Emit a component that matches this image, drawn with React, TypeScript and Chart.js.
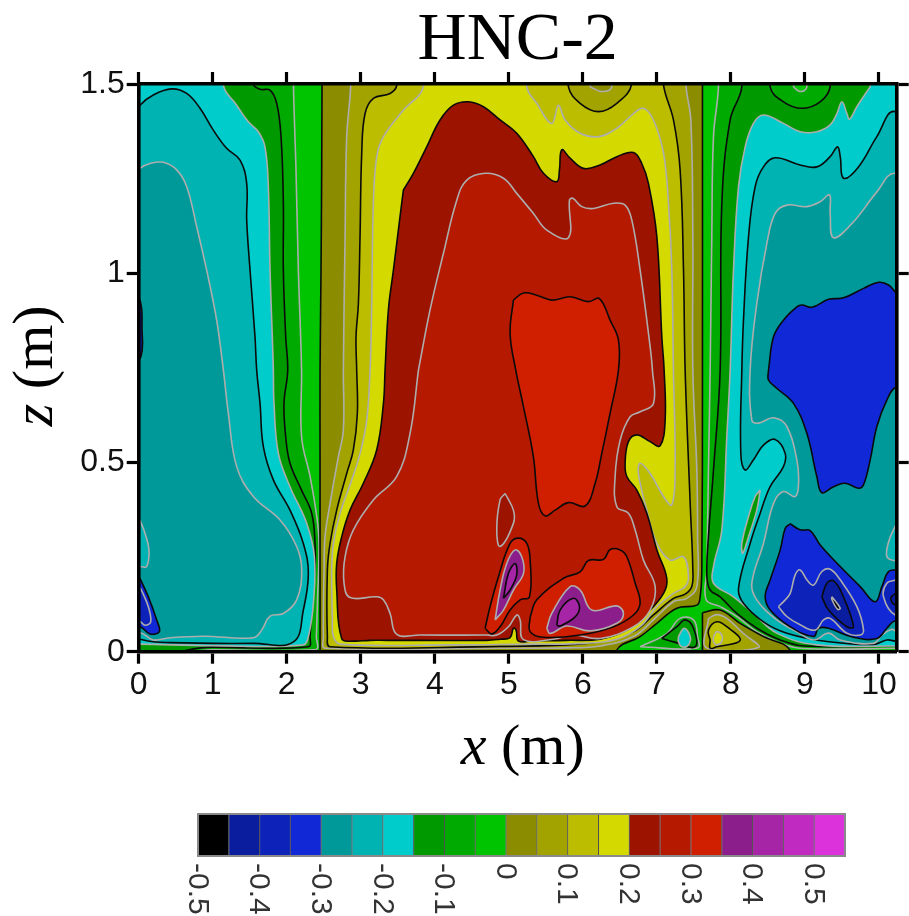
import React, { useEffect, useRef } from "react";
import { Chart, registerables } from "chart.js";

Chart.register(...registerables);

type P = number[][];

// colour of every 0.05 wide level, from -0.5 up to 0.55
const levelColors = ["#000000", "#0a1d9e", "#0d22b8", "#1128d6", "#009999", "#00b3b3", "#00cccc", "#009900", "#00aa00", "#00c400", "#8c8c00", "#a3a300", "#bdbd00", "#d4d900", "#9c1300", "#b51900", "#cf1f00", "#8c1e8c", "#a624a6", "#c02ac0", "#dc32dc"];
const levelStarts = [-0.475, -0.425, -0.375, -0.325, -0.275, -0.225, -0.175, -0.125, -0.075, -0.025, 0.025, 0.075, 0.125, 0.175, 0.225, 0.275, 0.325, 0.375, 0.425, 0.475, 0.525];
const barHeights = levelStarts.map(() => 1);

const whole: P = [[-1, -1], [12, -1], [12, 2.5], [-1, 2.5]];

// left side, sub-level sets
const leftM005: P = [[-0.6, 1.7], [2.08, 1.7], [2.09, 1.5], [2.125, 1.273], [2.157, 1.008], [2.2, 0.744], [2.2, 0.568], [2.315, 0.463], [2.405, 0.357], [2.436, 0.286], [2.414, 0.128], [2.4, 0.04], [2.39, 0.006], [1, 0.005], [-0.6, 0.005]];
const leftM010: P = [[-0.6, 1.7], [1.5, 1.7], [1.549, 1.5], [1.639, 1.486], [1.774, 1.484], [1.864, 1.449], [1.923, 1.361], [1.954, 1.185], [1.954, 1.008], [1.986, 0.832], [2.013, 0.744], [1.963, 0.656], [1.986, 0.568], [2.044, 0.498], [2.2, 0.427], [2.337, 0.366], [2.382, 0.286], [2.382, 0.216], [2.337, 0.128], [2.315, 0.04], [2.292, 0.013], [1, 0.012], [-0.6, 0.012]];
const leftM015: P = [[-0.6, 1.7], [1.1, 1.7], [1.144, 1.497], [1.324, 1.444], [1.481, 1.4], [1.616, 1.374], [1.706, 1.334], [1.751, 1.229], [1.774, 1.008], [1.805, 0.832], [1.819, 0.744], [1.828, 0.656], [1.887, 0.524], [2.044, 0.436], [2.27, 0.339], [2.373, 0.251], [2.36, 0.128], [2.292, 0.04], [2.224, 0.018], [1, 0.016], [0, 0.02], [-0.6, 0.02]];
const leftM020: P = [[-0.6, 1.3], [0.017, 1.444], [0.197, 1.471], [0.445, 1.487], [0.648, 1.475], [0.828, 1.436], [1.008, 1.378], [1.188, 1.33], [1.369, 1.299], [1.459, 1.237], [1.459, 1.141], [1.504, 1.008], [1.571, 0.832], [1.594, 0.744], [1.639, 0.656], [1.684, 0.542], [1.819, 0.454], [2.044, 0.374], [2.224, 0.286], [2.292, 0.207], [2.224, 0.11], [2.09, 0.026], [1.549, 0.022], [0.423, 0.024], [0.062, 0.031], [-0.3, 0.06]];
const leftM025: P = [[-0.4, 1.2], [0.017, 1.277], [0.152, 1.29], [0.333, 1.293], [0.513, 1.273], [0.648, 1.229], [0.783, 1.123], [0.918, 1.008], [1.053, 0.876], [1.144, 0.744], [1.211, 0.63], [1.324, 0.489], [1.549, 0.41], [1.909, 0.348], [2.134, 0.278], [2.202, 0.216], [2.134, 0.137], [1.954, 0.101], [1.774, 0.094], [1.661, 0.057], [1.549, 0.037], [0.873, 0.041], [0.423, 0.037], [0.197, 0.031], [0.04, 0.049], [-0.3, 0.06]];
const leftIsle: P = [[0.017, 0.348], [0.085, 0.313], [0.139, 0.269], [0.107, 0.225], [0.017, 0.225], [-0.1, 0.22], [-0.1, 0.35]];
const leftBlue: P = [[0.017, 0.194], [0.13, 0.145], [0.243, 0.084], [0.279, 0.053], [0.152, 0.047], [0.017, 0.066], [-0.1, 0.06], [-0.1, 0.2]];
const leftBlueIn: P = [[0.027, 0.167], [0.13, 0.119], [0.162, 0.079], [0.085, 0.07], [0.017, 0.08], [-0.1, 0.08], [-0.1, 0.17]];
const leftNavy: P = [[-0.1, 0.93], [0.015, 0.93], [0.045, 0.85], [0.03, 0.78], [-0.1, 0.76]];

// central part, super-level sets
const mid000: P = [[2.48, 1.7], [7.62, 1.7], [7.616, 1.497], [7.616, 0.744], [7.607, 0.216], [7.585, 0.145], [7.54, 0.123], [7.27, 0.115], [7.0, 0.075], [6.774, 0.04], [6.459, 0.004], [6.4, -0.1], [2.52, -0.1], [2.45, -0.08], [2.45, 0], [2.45, 0.2], [2.45, 0.5], [2.45, 0.744], [2.463, 1.008], [2.472, 1.273]];
const mid005: P = [[2.87, 1.7], [2.864, 1.497], [2.81, 1.361], [2.788, 1.096], [2.765, 0.744], [2.765, 0.586], [2.697, 0.515], [2.585, 0.392], [2.517, 0.304], [2.504, 0.216], [2.495, 0.04], [2.52, 0.009], [4.882, 0.009], [5.78, 0.01], [6.233, 0.015], [6.684, 0.04], [6.954, 0.084], [7.224, 0.132], [7.405, 0.141], [7.54, 0.172], [7.55, 0.304], [7.54, 0.48], [7.486, 0.744], [7.486, 1.096], [7.459, 1.405], [7.395, 1.493], [7.35, 1.7]];
const mid010: P = [[3.5, 1.7], [3.486, 1.497], [3.396, 1.475], [3.171, 1.462], [3.058, 1.422], [3.013, 1.317], [2.99, 1.096], [2.968, 0.92], [2.936, 0.832], [2.945, 0.744], [2.954, 0.63], [2.9, 0.533], [2.81, 0.471], [2.675, 0.374], [2.585, 0.286], [2.549, 0.216], [2.549, 0.04], [2.585, 0.013], [4.882, 0.014], [5.78, 0.018], [6.233, 0.027], [6.684, 0.053], [6.954, 0.097], [7.224, 0.141], [7.382, 0.152], [7.472, 0.172], [7.486, 0.216], [7.45, 0.392], [7.382, 0.744], [7.36, 1.008], [7.314, 1.273], [7.224, 1.405], [7.09, 1.497], [7.0, 1.7], [6.7, 1.7], [6.66, 1.5], [6.459, 1.449], [6.211, 1.427], [5.963, 1.449], [5.805, 1.493], [5.7, 1.7]];
const mid015: P = [[3.9, 1.7], [3.846, 1.493], [3.576, 1.431], [3.306, 1.361], [3.215, 1.308], [3.17, 1.185], [3.148, 0.92], [3.125, 0.744], [3.08, 0.612], [2.99, 0.524], [2.878, 0.454], [2.72, 0.366], [2.63, 0.286], [2.607, 0.216], [2.616, 0.084], [2.63, 0.04], [2.72, 0.02], [4.25, 0.018], [4.882, 0.019], [5.332, 0.02], [6.008, 0.022], [6.459, 0.033], [6.774, 0.066], [7.0, 0.119], [7.224, 0.154], [7.382, 0.172], [7.427, 0.198], [7.36, 0.251], [7.179, 0.242], [7.0, 0.286], [6.864, 0.374], [6.751, 0.471], [6.774, 0.498], [6.909, 0.471], [7.09, 0.41], [7.202, 0.388], [7.247, 0.48], [7.224, 0.744], [7.202, 1.008], [7.157, 1.185], [7.09, 1.317], [6.954, 1.405], [6.819, 1.436], [6.684, 1.422], [6.459, 1.383], [6.211, 1.361], [5.963, 1.37], [5.76, 1.405], [5.67, 1.444], [5.58, 1.396], [5.377, 1.449], [5.242, 1.493], [5.2, 1.7]];
const mid020: P = [[3.576, 1.22], [3.711, 1.264], [3.891, 1.334], [4.071, 1.405], [4.252, 1.444], [4.454, 1.453], [4.657, 1.44], [4.882, 1.405], [5.107, 1.37], [5.332, 1.308], [5.468, 1.264], [5.648, 1.242], [5.684, 1.273], [5.715, 1.326], [5.828, 1.304], [6.008, 1.277], [6.233, 1.286], [6.459, 1.308], [6.684, 1.319], [6.796, 1.29], [6.887, 1.237], [7.0, 1.096], [7.067, 0.832], [7.098, 0.744], [7.112, 0.612], [7.044, 0.544], [6.909, 0.555], [6.729, 0.573], [6.616, 0.555], [6.571, 0.498], [6.594, 0.463], [6.729, 0.427], [6.864, 0.366], [7.0, 0.269], [7.134, 0.194], [7.09, 0.154], [6.864, 0.101], [6.594, 0.057], [6.233, 0.033], [5.783, 0.03], [5.332, 0.029], [5.13, 0.028], [5.098, 0.057], [5.062, 0.062], [5.017, 0.037], [4.882, 0.033], [4.702, 0.03], [3.8, 0.03], [3.35, 0.03], [3.125, 0.03], [2.9, 0.028], [2.743, 0.034], [2.675, 0.163], [2.675, 0.234], [2.743, 0.304], [2.855, 0.374], [3.035, 0.445], [3.215, 0.533], [3.306, 0.656], [3.328, 0.744], [3.373, 0.903], [3.441, 1.008], [3.553, 1.185]];
const mid025: P = [[3.779, 0.744], [3.936, 0.903], [4.116, 1.052], [4.297, 1.193], [4.432, 1.246], [4.68, 1.264], [4.928, 1.251], [5.107, 1.211], [5.332, 1.158], [5.513, 1.114], [5.805, 1.094], [5.819, 1.193], [5.864, 1.198], [5.986, 1.176], [6.143, 1.171], [6.414, 1.185], [6.571, 1.18], [6.661, 1.141], [6.774, 1.008], [6.909, 0.806], [6.94, 0.744], [6.954, 0.656], [6.774, 0.634], [6.639, 0.621], [6.504, 0.559], [6.436, 0.463], [6.459, 0.383], [6.616, 0.366], [6.706, 0.322], [6.819, 0.242], [6.977, 0.172], [6.909, 0.11], [6.684, 0.066], [6.233, 0.035], [5.873, 0.044], [5.603, 0.033], [5.198, 0.032], [5.153, 0.084], [5.108, 0.097], [4.995, 0.066], [4.837, 0.044], [4.702, 0.044], [3.8, 0.044], [3.486, 0.046], [3.396, 0.101], [3.306, 0.137], [3.215, 0.145], [2.855, 0.143], [2.774, 0.181], [2.788, 0.251], [2.9, 0.322], [3.17, 0.401], [3.486, 0.463], [3.666, 0.577]];
const midIsle: P = [[4.95, 0.418], [5.062, 0.374], [5.062, 0.339], [4.882, 0.278], [4.837, 0.322], [4.882, 0.401]];
const mid030Top: P = [[5.062, 0.929], [5.197, 0.948], [5.377, 0.942], [5.58, 0.929], [5.828, 0.938], [6.076, 0.925], [6.224, 0.933], [6.368, 0.876], [6.481, 0.823], [6.481, 0.744], [6.368, 0.63], [6.256, 0.524], [6.166, 0.445], [6.031, 0.385], [5.805, 0.394], [5.625, 0.374], [5.49, 0.359], [5.4, 0.392], [5.332, 0.515], [5.197, 0.648], [5.094, 0.744], [5.017, 0.841]];
const mid030LobeA: P = [[4.68, 0.062], [4.747, 0.119], [4.86, 0.198], [5.017, 0.286], [5.13, 0.3], [5.243, 0.286], [5.288, 0.242], [5.279, 0.145], [5.153, 0.137], [5.017, 0.11], [4.882, 0.066], [4.77, 0.047]];
const mid030LobeB: P = [[5.288, 0.092], [5.288, 0.053], [5.468, 0.038], [5.963, 0.044], [6.414, 0.066], [6.684, 0.097], [6.774, 0.128], [6.707, 0.181], [6.594, 0.251], [6.504, 0.269], [6.369, 0.27], [6.279, 0.244], [6.076, 0.241], [5.963, 0.211], [5.738, 0.194], [5.378, 0.137]];
const mid035LobeA: P = [[4.815, 0.084], [4.882, 0.163], [4.972, 0.233], [5.085, 0.269], [5.175, 0.251], [5.198, 0.207], [5.062, 0.163], [4.927, 0.11]];
const mid035LobeB: P = [[5.513, 0.062], [5.58, 0.101], [5.828, 0.172], [5.963, 0.163], [6.121, 0.11], [6.459, 0.121], [6.549, 0.101], [6.459, 0.075], [6.099, 0.055], [5.783, 0.068], [5.558, 0.048]];
const mid040LobeA: P = [[4.927, 0.141], [4.995, 0.207], [5.085, 0.233], [5.107, 0.203], [5.017, 0.163]];
const mid040LobeB: P = [[5.648, 0.07], [5.693, 0.11], [5.873, 0.141], [5.955, 0.119], [5.896, 0.092], [5.693, 0.068]];
const topDent: P = [[6.098, 1.493], [6.256, 1.48], [6.391, 1.493], [6.4, 1.7], [6.09, 1.7]];

// bottom pockets next to x = 7.6
const pocketM005: P = [[6.774, 0.013], [7.134, 0.048], [7.314, 0.088], [7.495, 0.084], [7.55, 0.04], [7.55, 0.01]];
const pocketM010: P = [[7.067, 0.035], [7.27, 0.066], [7.382, 0.084], [7.495, 0.062], [7.517, 0.013], [7.225, 0.026]];
const pocketM015: P = [[7.292, 0.04], [7.369, 0.062], [7.45, 0.04], [7.427, 0.018], [7.337, 0.013], [7.292, 0.026]];
const pocket000: P = [[7.616, 0.103], [7.855, 0.11], [8.125, 0.075], [8.44, 0.04], [8.8, 0.004], [8.9, -0.1], [7.7, -0.1], [7.616, -0.08], [7.616, -0.02], [7.616, 0.05]];
const pocket005: P = [[7.697, 0.088], [7.81, 0.098], [7.945, 0.088], [8.17, 0.048], [8.373, 0.011], [7.675, 0.009]];
const pocket010: P = [[7.72, 0.03], [7.697, 0.057], [7.81, 0.079], [7.945, 0.066], [8.125, 0.03], [7.81, 0.013], [7.72, 0.009]];
const pocket015: P = [[7.765, 0.04], [7.81, 0.053], [7.878, 0.044], [7.878, 0.027], [7.81, 0.018], [7.765, 0.027]];

// right side, sub-level sets
const rightM005: P = [[7.84, 1.7], [7.832, 1.493], [7.765, 1.361], [7.742, 1.096], [7.72, 0.744], [7.697, 0.48], [7.675, 0.216], [7.666, 0.137], [7.855, 0.119], [8.08, 0.093], [8.351, 0.053], [8.621, 0.027], [8.936, 0.009], [10.3, 0.009], [11, 0.009], [11, 1.7]];
const rightM010: P = [[8.16, 1.7], [8.148, 1.493], [7.99, 1.405], [7.878, 1.185], [7.855, 0.744], [7.765, 0.48], [7.697, 0.304], [7.675, 0.2], [7.72, 0.163], [7.855, 0.145], [8.08, 0.101], [8.351, 0.062], [8.666, 0.031], [8.981, 0.015], [10.3, 0.015], [11, 0.015], [11, 1.7], [9.36, 1.7], [9.341, 1.493], [9.206, 1.453], [8.959, 1.436], [8.71, 1.453], [8.53, 1.493], [8.5, 1.7]];
const rightTopDent: P = [[8.846, 1.492], [8.936, 1.48], [9.026, 1.492], [9.03, 1.7], [8.84, 1.7]];
const rightM015: P = [[9.882, 1.493], [9.702, 1.44], [9.603, 1.407], [9.567, 1.422], [9.5, 1.453], [9.432, 1.422], [9.341, 1.392], [9.161, 1.374], [8.936, 1.374], [8.71, 1.396], [8.44, 1.418], [8.305, 1.396], [8.193, 1.334], [8.103, 1.229], [8.035, 1.008], [7.99, 0.744], [7.945, 0.568], [7.878, 0.322], [7.765, 0.225], [7.765, 0.181], [8.035, 0.145], [8.305, 0.101], [8.62, 0.049], [9.161, 0.018], [10.2, 0.015], [11, 0.015], [11, 1.7], [9.95, 1.7]];
const rightStreak: P = [[8.396, 0.427], [8.35, 0.374], [8.238, 0.304], [8.161, 0.26], [8.148, 0.286], [8.238, 0.357], [8.328, 0.41]];
const rightM020: P = [[11, 1.3], [10.22, 1.427], [9.972, 1.361], [9.724, 1.281], [9.522, 1.251], [9.477, 1.308], [9.441, 1.334], [9.341, 1.308], [9.161, 1.281], [8.936, 1.286], [8.598, 1.305], [8.44, 1.281], [8.328, 1.229], [8.238, 1.096], [8.17, 0.876], [8.148, 0.744], [8.134, 0.524], [8.193, 0.48], [8.305, 0.507], [8.44, 0.546], [8.598, 0.561], [8.733, 0.524], [8.71, 0.489], [8.53, 0.436], [8.396, 0.366], [8.26, 0.286], [8.103, 0.167], [8.17, 0.128], [8.44, 0.079], [8.756, 0.049], [9.297, 0.027], [9.927, 0.019], [10.107, 0.031], [10.24, 0.027], [11, 0.02]];
const rightM025: P = [[11, 1.2], [10.22, 1.264], [9.972, 1.215], [9.657, 1.136], [9.387, 1.094], [9.341, 1.158], [9.332, 1.207], [9.206, 1.189], [9.026, 1.176], [8.756, 1.18], [8.598, 1.158], [8.486, 1.079], [8.35, 0.92], [8.26, 0.744], [8.283, 0.612], [8.373, 0.604], [8.576, 0.618], [8.756, 0.595], [8.891, 0.507], [8.914, 0.445], [8.869, 0.41], [8.71, 0.423], [8.576, 0.392], [8.44, 0.286], [8.283, 0.181], [8.35, 0.137], [8.62, 0.084], [8.891, 0.053], [9.117, 0.031], [9.319, 0.049], [9.477, 0.031], [9.927, 0.022], [10.04, 0.044], [10.175, 0.059], [10.24, 0.053], [11, 0.04]];
const rightIsle: P = [[10.24, 0.34], [10.13, 0.29], [10.11, 0.25], [10.23, 0.24], [10.5, 0.24], [10.5, 0.34]];
const rightM030Top: P = [[8.508, 0.744], [8.576, 0.832], [8.71, 0.876], [8.891, 0.911], [8.959, 0.916], [9.094, 0.91], [9.319, 0.931], [9.522, 0.935], [9.792, 0.96], [9.995, 0.976], [10.13, 0.969], [10.24, 0.947], [10.6, 0.9], [10.6, 0.7], [10.24, 0.7], [10.107, 0.665], [9.972, 0.595], [9.882, 0.507], [9.792, 0.441], [9.724, 0.432], [9.544, 0.445], [9.387, 0.436], [9.229, 0.42], [9.161, 0.463], [9.026, 0.577], [8.846, 0.656], [8.62, 0.696], [8.508, 0.718]];
const rightM030Low: P = [[8.801, 0.338], [8.936, 0.322], [9.071, 0.32], [9.207, 0.282], [9.477, 0.225], [9.747, 0.172], [9.95, 0.132], [10.04, 0.172], [10.13, 0.212], [10.24, 0.216], [10.6, 0.216], [10.6, 0.08], [10.22, 0.082], [10.107, 0.062], [9.972, 0.035], [9.657, 0.038], [9.319, 0.062], [9.184, 0.062], [9.117, 0.04], [8.801, 0.066], [8.531, 0.11], [8.463, 0.146], [8.531, 0.19], [8.666, 0.269], [8.734, 0.326]];
const rightM035: P = [[8.643, 0.119], [8.734, 0.137], [8.801, 0.154], [8.869, 0.203], [8.936, 0.216], [9.026, 0.19], [9.117, 0.176], [9.229, 0.212], [9.342, 0.218], [9.477, 0.19], [9.702, 0.119], [9.792, 0.057], [9.747, 0.044], [9.567, 0.049], [9.342, 0.088], [9.252, 0.084], [9.139, 0.057], [8.936, 0.071], [8.756, 0.093]];
const rightM035Edge: P = [[10.24, 0.19], [10.107, 0.181], [10.062, 0.145], [10.22, 0.097], [10.6, 0.09], [10.6, 0.19]];
const rightM040: P = [[9.229, 0.145], [9.297, 0.181], [9.387, 0.187], [9.5, 0.154], [9.657, 0.066], [9.567, 0.066], [9.319, 0.11]];
const rightM040Edge: P = [[10.22, 0.154], [10.16, 0.141], [10.22, 0.124], [10.6, 0.12], [10.6, 0.154]];
const rightM045: P = [[9.364, 0.145], [9.477, 0.115], [9.441, 0.112], [9.364, 0.138]];

const K = "#0a0a0a";
const G = "#adadad";

// painted from first to last: contour, level index, line colour
const regions: [P, number, string][] = [
  [whole, 9, K],
  [leftM005, 8, G], [leftM010, 7, K], [leftM015, 6, G], [leftM020, 5, K], [leftM025, 4, G],
  [leftIsle, 5, G], [leftNavy, 1, K], [leftBlue, 3, K], [leftBlueIn, 2, G],
  [mid000, 10, K], [mid005, 11, G], [mid010, 12, K], [mid015, 13, G], [mid020, 14, K], [mid025, 15, G],
  [midIsle, 14, G], [mid030Top, 16, K], [mid030LobeA, 16, K], [mid030LobeB, 16, K],
  [mid035LobeA, 17, G], [mid035LobeB, 17, G], [mid040LobeA, 18, K], [mid040LobeB, 18, K], [topDent, 10, G],
  [rightM005, 8, G], [rightM010, 7, K], [rightTopDent, 9, G], [rightM015, 6, G], [rightStreak, 7, G],
  [rightM020, 5, K], [rightM025, 4, G], [rightIsle, 5, G], [rightM030Top, 3, K], [rightM030Low, 3, K],
  [rightM035, 2, G], [rightM035Edge, 2, G], [rightM040, 1, K], [rightM040Edge, 1, K], [rightM045, 0, G],
  [pocketM005, 8, G], [pocketM010, 7, K], [pocketM015, 6, G],
  [pocket000, 10, K], [pocket005, 11, G], [pocket010, 12, K], [pocket015, 13, G],
];

const xTickStep = 1;
const zTickStep = 0.5;

const axisTitles = {
  x: [["x", "italic"], [" (m)", "normal"]],
  z: [["z", "italic"], [" (m)", "normal"]],
};

function drawMixed(ctx: CanvasRenderingContext2D, parts: string[][], size: number) {
  let w = 0;
  for (const [t, st] of parts) {
    ctx.font = `${st} ${size}px "Liberation Serif"`;
    w += ctx.measureText(t).width;
  }
  let at = -w / 2;
  for (const [t, st] of parts) {
    ctx.font = `${st} ${size}px "Liberation Serif"`;
    ctx.textAlign = "left";
    ctx.textBaseline = "alphabetic";
    ctx.fillStyle = "#000";
    ctx.fillText(t, at, 0);
    at += ctx.measureText(t).width;
  }
}

const axisTitlePlugin = {
  id: "axisTitlePlugin",
  afterDraw(chart: any) {
    const { ctx, chartArea } = chart;
    ctx.save();
    ctx.translate((chartArea.left + chartArea.right) / 2 + 5, 764);
    drawMixed(ctx, axisTitles.x, 58);
    ctx.restore();
    ctx.save();
    ctx.translate(52, (chartArea.top + chartArea.bottom) / 2 - 2);
    ctx.rotate(-Math.PI / 2);
    drawMixed(ctx, axisTitles.z, 58);
    ctx.restore();
  },
};

const barFramePlugin = {
  id: "barFramePlugin",
  afterDatasetsDraw(chart: any) {
    const { ctx, chartArea: a, scales } = chart;
    ctx.save();
    ctx.strokeStyle = "#8a8a8a";
    ctx.lineWidth = 2;
    ctx.strokeRect(a.left, a.top, a.right - a.left, a.bottom - a.top);
    ctx.fillStyle = "#333";
    ctx.font = '30px "Liberation Sans"';
    ctx.textAlign = "left";
    ctx.textBaseline = "middle";
    for (const tick of scales.x.ticks) {
      const label = String(Math.round(tick.value * 10) / 10);
      ctx.save();
      ctx.translate(scales.x.getPixelForValue(tick.value) - 1, a.bottom + 7);
      ctx.rotate(Math.PI / 2);
      ctx.fillText(label, 0, 0);
      ctx.restore();
    }
    ctx.restore();
  },
};

const fixedW = (w: number) => (s: any) => { s.width = w; };
const fixedH = (h: number) => (s: any) => { s.height = h; };

const MAIN_H = 790;

export default function App() {
  const mainRef = useRef<HTMLCanvasElement>(null);
  const barRef = useRef<HTMLCanvasElement>(null);

  useEffect(() => {
    const tickFont = { family: '"Liberation Sans"', size: 32 };
    const hiddenTicks = { display: false };
    const grid = { drawOnChartArea: false, drawTicks: true, tickLength: 12, tickWidth: 3.2, color: "#000" };
    const border = { display: true, color: "#000", width: 3.6, z: 1 };
    const main = new Chart(mainRef.current!, {
      type: "scatter",
      data: {
        datasets: regions.map(([pts, level, ink], i) => ({
          data: [...pts, pts[0]].map(([x, y]) => ({ x, y })),
          showLine: true,
          order: regions.length - i,
          fill: "shape",
          backgroundColor: levelColors[level],
          borderColor: ink,
          borderWidth: 1.6,
          tension: 0.4,
          pointRadius: 0,
          pointHoverRadius: 0,
        })),
      },
      options: {
        responsive: false,
        animation: false,
        events: [],
        layout: { padding: 0 },
        plugins: {
          legend: { display: false },
          tooltip: { enabled: false },
          title: {
            display: true,
            fullSize: false,
            text: "HNC-2",
            color: "#000",
            font: { family: '"Liberation Serif"', size: 68, weight: "normal", lineHeight: 1 },
            padding: { top: 7, bottom: 0 },
          },
        },
        scales: {
          x: {
            type: "linear", position: "bottom", min: 0, max: 10.24, afterFit: fixedH(MAIN_H - 651.7),
            ticks: { stepSize: xTickStep, includeBounds: false, font: tickFont, color: "#111", padding: 2, maxRotation: 0, callback: (v: any) => String(v) },
            grid, border,
          },
          xTop: {
            type: "linear", position: "top", min: 0, max: 10.24, afterFit: fixedH(9),
            ticks: { ...hiddenTicks, stepSize: xTickStep, includeBounds: false },
            grid, border,
          },
          y: {
            type: "linear", position: "left", min: 0, max: 1.5, afterFit: fixedW(138.7),
            ticks: { stepSize: zTickStep, font: tickFont, color: "#111", padding: 2, callback: (v: any) => String(v) },
            grid, border,
          },
          yRight: {
            type: "linear", position: "right", min: 0, max: 1.5, afterFit: fixedW(12.3),
            ticks: { ...hiddenTicks, stepSize: zTickStep },
            grid, border,
          },
        },
      } as any,
      plugins: [axisTitlePlugin],
    } as any);

    const bar = new Chart(barRef.current!, {
      type: "bar",
      data: {
        datasets: [{
          data: levelStarts.map((x, i) => ({ x, y: barHeights[i] })),
          backgroundColor: levelColors,
          borderColor: "rgba(0,0,0,0.45)",
          borderWidth: 1,
          inflateAmount: 0.5,
          barPercentage: 1,
          categoryPercentage: 1,
        }],
      },
      options: {
        responsive: false,
        animation: false,
        events: [],
        layout: { padding: { left: 198, right: 64, top: 814 - MAIN_H, bottom: 0 } },
        plugins: { legend: { display: false }, tooltip: { enabled: false } },
        scales: {
          x: {
            type: "linear", min: -0.5, max: 0.55, offset: false, afterFit: fixedH(916 - 856),
            grid: { display: false }, border: { display: false },
            ticks: { stepSize: 0.1, includeBounds: false, display: false },
          },
          y: { display: false, min: 0, max: 1 },
        },
      } as any,
      plugins: [barFramePlugin],
    } as any);

    return () => { main.destroy(); bar.destroy(); };
  }, []);

  return (
    <div style={{ position: "absolute", left: 0, top: 0, width: 909, height: 916, background: "#fff", overflow: "hidden" }}>
      <canvas ref={mainRef} width={909} height={MAIN_H} style={{ position: "absolute", left: 0, top: 0, filter: "blur(0.5px)" }} />
      <canvas ref={barRef} width={909} height={916 - MAIN_H} style={{ position: "absolute", left: 0, top: MAIN_H, filter: "blur(0.5px)" }} />
    </div>
  );
}
